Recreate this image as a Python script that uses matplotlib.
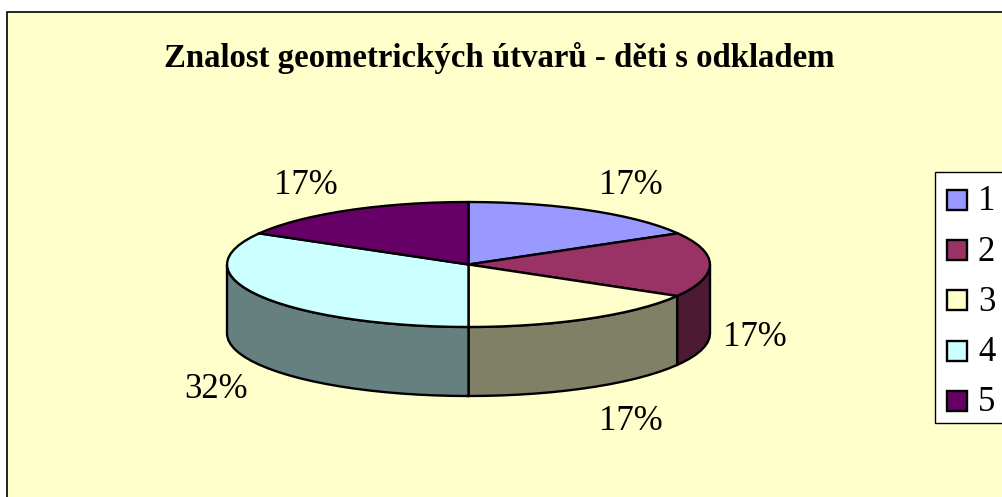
import numpy as np
import matplotlib
matplotlib.use('Agg')
import matplotlib.pyplot as plt
from matplotlib.patches import Polygon, Rectangle

title = 'Znalost geometrických útvarů - děti s odkladem'
categories = ['1', '2', '3', '4', '5']
shares = [16.7, 16.7, 16.6, 33.3, 16.7]
pct_labels = ['17%', '17%', '17%', '32%', '17%']
colors = ['#9999FF', '#993366', '#FFFFCC', '#CCFFFF', '#660066']
side_colors = ['#4D4D80', '#4D1A33', '#808066', '#668080', '#330033']

plt.rcParams['font.family'] = ['Liberation Serif', 'DejaVu Serif']

fig = plt.figure(figsize=(10.03, 4.97), dpi=100, facecolor='white')
ax = fig.add_axes([0, 0, 1, 1])
ax.set_xlim(0, 1003)
ax.set_ylim(497, 0)
ax.axis('off')

# chart area, runs off the right and bottom edge
ax.add_patch(Rectangle((7, 12), 1100, 600, fc='#FFFFCC', ec='black', lw=1.2))
ax.text(499, 58, title, fontsize=23.6, fontweight='bold', ha='center', va='center')

cx, cy = 468.5, 264.5
rx, ry = 241.5, 62.5
depth = 69


def rim(t0, t1, shift=0):
    t = np.radians(np.arange(t0, t1 + 0.5, 4.0))
    t = np.append(t, np.radians(t1))
    return np.column_stack([cx + rx * np.sin(t), cy - ry * np.cos(t) + shift])


edges = np.cumsum([0] + shares) / np.sum(shares) * 360

# outer wall, only the front half can be seen
for i in range(len(shares)):
    t0 = max(edges[i], 90)
    t1 = min(edges[i + 1], 270)
    if t1 <= t0:
        continue
    top = rim(t0, t1)
    bottom = rim(t0, t1, depth)[::-1]
    ax.add_patch(Polygon(np.vstack([top, bottom]), closed=True, fc=side_colors[i],
                         ec='black', lw=1.7, joinstyle='round'))

# top face
for i in range(len(shares)):
    pts = np.vstack([[cx, cy], rim(edges[i], edges[i + 1])])
    ax.add_patch(Polygon(pts, closed=True, fc=colors[i], ec='black', lw=1.7,
                         joinstyle='round'))

label_pos = [(631, 185), (755, 337), (631, 421), (216, 389), (306, 185)]
for (x, y), lab in zip(label_pos, pct_labels):
    ax.text(x, y, lab, fontsize=25, ha='center', va='center')

# legend box
ax.add_patch(Rectangle((935, 172), 100, 251, fc='white', ec='black', lw=1))
for i, cat in enumerate(categories):
    y = 200 + i * 50.2
    ax.add_patch(Rectangle((947.5, y - 10), 20, 20, fc=colors[i], ec='black', lw=1.7))
    ax.text(978, y + 2, cat, fontsize=25, ha='left', va='center')

fig.savefig('out.png', dpi=100)
